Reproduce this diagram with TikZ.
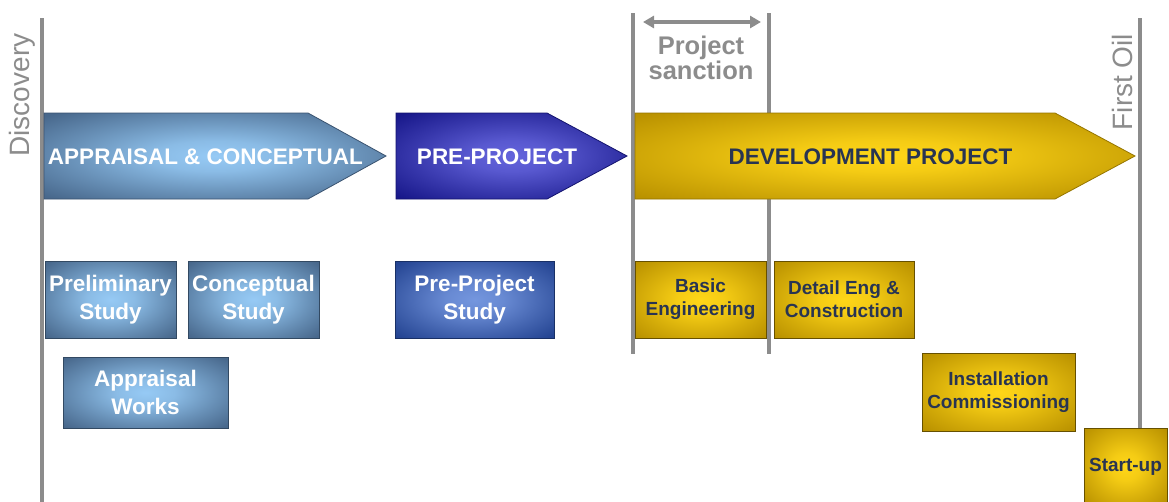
\documentclass[tikz,border=0pt]{standalone}
\usepackage{fontspec}
\setmainfont{Liberation Sans}
\usetikzlibrary{arrows.meta}
\definecolor{line-gray}{RGB}{140,140,140}
\definecolor{steel-dark}{RGB}{72,104,140}
\definecolor{steel-light}{RGB}{150,202,245}
\definecolor{navy-dark}{RGB}{24,24,138}
\definecolor{navy-light}{RGB}{100,100,220}
\definecolor{study-dark}{RGB}{36,68,146}
\definecolor{study-light}{RGB}{116,150,222}
\definecolor{gold-dark}{RGB}{186,146,0}
\definecolor{gold-light}{RGB}{255,214,24}
\definecolor{ink-dark}{RGB}{40,52,82}
\colorlet{glow-in}{white}
\colorlet{glow-out}{black}
\pgfdeclareradialshading[glow-in,glow-out]{glow}{\pgfpoint{0bp}{0bp}}{%
  color(0bp)=(glow-in); color(9bp)=(glow-in!85!glow-out);
  color(22bp)=(glow-in!40!glow-out); color(34bp)=(glow-out); color(50bp)=(glow-out)}
\tikzset{
  glowfill/.style 2 args={/utils/exec={\colorlet{glow-in}{#1}\colorlet{glow-out}{#2}}, shading=glow},
  milestone/.style={draw=line-gray, line width=4pt},
  milelabel/.style={text=line-gray, font=\fontsize{28}{30}\selectfont, inner sep=0pt},
  phase/.style={draw=#1-dark!80!black, line width=0.8pt, glowfill={#1-light}{#1-dark}},
  phaselabel/.style={font=\fontsize{22.5}{28}\selectfont\bfseries, inner sep=0pt},
  bluebox/.style={draw=#1-dark!70!black, line width=0.8pt, shade, glowfill={#1-light}{#1-dark},
    text=white, font=\fontsize{22.5}{28}\selectfont\bfseries, align=center, inner sep=0pt},
  goldbox/.style={draw=gold-dark!55!black, line width=0.8pt, shade, glowfill={gold-light}{gold-dark},
    text=ink-dark, font=\fontsize{19}{23}\selectfont\bfseries, align=center, inner sep=0pt}
}
\begin{document}
\begin{tikzpicture}[x=1pt,y=-1pt]
\useasboundingbox (0,0) rectangle (1169,501);
% milestones
\coordinate (disc-top) at (41.5,18);
\coordinate (disc-bot) at (41.5,505);
\coordinate (sanc-a-top) at (633,13);
\coordinate (sanc-a-bot) at (633,354);
\coordinate (sanc-b-top) at (769,13);
\coordinate (sanc-b-bot) at (769,354);
\coordinate (oil-top) at (1140,18);
\coordinate (oil-bot) at (1140,430);
\draw[milestone] (disc-top) -- (disc-bot);
\draw[milestone] (sanc-a-top) -- (sanc-a-bot);
\draw[milestone] (sanc-b-top) -- (sanc-b-bot);
\draw[milestone] (oil-top) -- (oil-bot);
\node[milelabel, rotate=90] (discovery) at (22,95) {Discovery};
\node[milelabel, rotate=90] (first-oil) at (1122,82) {First Oil};
\node[milelabel, font=\fontsize{25.5}{25}\selectfont\bfseries, align=center] (sanction) at (701,58) {Project\\sanction};
\coordinate (sanc-left) at (643,22);
\coordinate (sanc-right) at (761,22);
\draw[line-gray, line width=4pt, {Triangle[length=11pt,width=12pt]}-{Triangle[length=11pt,width=12pt]}] (sanc-left) -- (sanc-right);
% phase arrows
\shadedraw[phase=steel] (44,113) -- (308,113) -- (386,156) -- (308,199) -- (44,199) -- cycle;
\shadedraw[phase=navy] (396,113) -- (547,113) -- (627,156) -- (547,199) -- (396,199) -- cycle;
\shadedraw[phase=gold] (635,113) -- (1055,113) -- (1135,156) -- (1055,199) -- (635,199) -- cycle;
\node[phaselabel, text=white] (appraisal) at (205.5,157) {APPRAISAL \& CONCEPTUAL};
\node[phaselabel, text=white] (pre-project) at (497,157) {PRE-PROJECT};
\node[phaselabel, text=ink-dark] (development) at (870.5,157) {DEVELOPMENT PROJECT};
% activities
\node[bluebox=steel, minimum width=131pt, minimum height=77pt] (prelim) at (110.5,299.5) {Preliminary\\Study};
\node[bluebox=steel, minimum width=131pt, minimum height=77pt] (concept) at (253.5,299.5) {Conceptual\\Study};
\node[bluebox=steel, minimum width=165pt, minimum height=71pt] (works) at (145.5,392.5) {Appraisal\\Works};
\node[bluebox=study, minimum width=159pt, minimum height=77pt] (study) at (474.5,299.5) {Pre-Project\\Study};
\node[goldbox, minimum width=131pt, minimum height=77pt] (basic) at (700.5,299.5) {Basic\\Engineering};
\node[goldbox, minimum width=140pt, minimum height=77pt] (detail) at (844,299.5) {Detail Eng \&\\Construction};
\node[goldbox, minimum width=153pt, minimum height=78pt] (install) at (998.5,392) {Installation\\Commissioning};
\node[goldbox, minimum width=83pt, minimum height=77pt] (startup) at (1125.5,466.5) {Start-up};
\end{tikzpicture}
\end{document}
